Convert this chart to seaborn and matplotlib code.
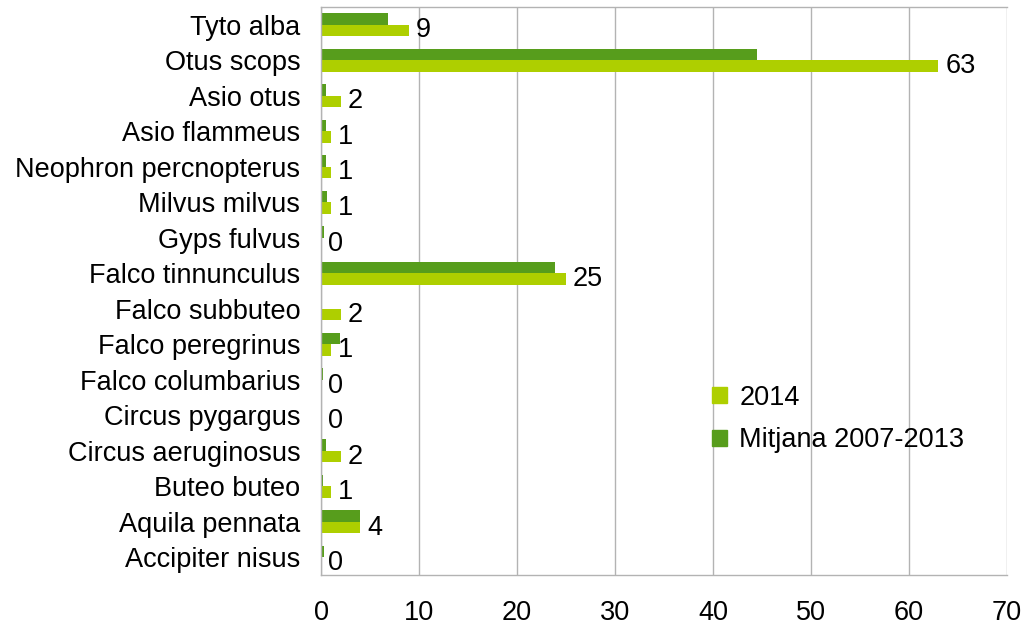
import pandas as pd
import matplotlib
matplotlib.use("Agg")
import matplotlib.pyplot as plt
from matplotlib.patches import Patch
from matplotlib.ticker import FixedLocator
import seaborn as sns

# dades
species = ["Tyto alba", "Otus scops", "Asio otus", "Asio flammeus",
           "Neophron percnopterus", "Milvus milvus", "Gyps fulvus",
           "Falco tinnunculus", "Falco subbuteo", "Falco peregrinus",
           "Falco columbarius", "Circus pygargus", "Circus aeruginosus",
           "Buteo buteo", "Aquila pennata", "Accipiter nisus"]
values_2014 = [9, 63, 2, 1, 1, 1, 0, 25, 2, 1, 0, 0, 2, 1, 4, 0]
values_mitjana = [6.8, 44.5, 0.5, 0.55, 0.5, 0.65, 0.3, 23.9, 0, 1.9,
                  0.15, 0.1, 0.5, 0.2, 4.0, 0.3]

LIGHT = "#aecf00"
DARK = "#579d1c"
FS = 19.5

df = pd.DataFrame({
    "species": species * 2,
    "value": values_mitjana + values_2014,
    "serie": ["Mitjana 2007-2013"] * len(species) + ["2014"] * len(species),
})

sns.set_style("white")
plt.rcParams["font.family"] = ["Liberation Sans", "DejaVu Sans"]
plt.rcParams["text.color"] = "black"

fig = plt.figure(figsize=(10.29, 6.28), dpi=100)
ax = fig.add_axes([0.312, 0.0844, 0.6665, 0.9045])

sns.barplot(data=df, y="species", x="value", hue="serie",
            hue_order=["Mitjana 2007-2013", "2014"],
            palette={"Mitjana 2007-2013": DARK, "2014": LIGHT},
            orient="h", width=0.65, gap=0, saturation=1,
            edgecolor="none", linewidth=0, legend=False, ax=ax)

# etiquetes de 2014
ax.bar_label(ax.containers[1], labels=[str(v) for v in values_2014],
             padding=5, fontsize=FS, color="black")

ax.set_xlim(0, 70)
ax.set_ylim(len(species) - 0.5, -0.5)
ax.set_xticks(range(0, 71, 10))
ax.set_xlabel("")
ax.set_ylabel("")
ax.grid(axis="x", color="#b3b3b3", linewidth=1)
ax.set_axisbelow(True)

ax.yaxis.set_minor_locator(FixedLocator([i - 0.5 for i in range(len(species) + 1)]))
ax.tick_params(axis="y", which="major", length=0, labelsize=FS, pad=15,
               labelcolor="black")
ax.tick_params(axis="y", which="minor", length=7, color="#b3b3b3", direction="out")
ax.tick_params(axis="x", which="major", length=9, color="#b3b3b3",
               direction="out", labelsize=FS, pad=9, labelcolor="black")

for side in ["left", "bottom", "top", "right"]:
    ax.spines[side].set_color("#b3b3b3")
    ax.spines[side].set_linewidth(1)
ax.spines["right"].set_visible(False)

handles = [Patch(color=LIGHT, label="2014"),
           Patch(color=DARK, label="Mitjana 2007-2013")]
leg = ax.legend(handles=handles, loc="upper left", bbox_to_anchor=(0.535, 0.378),
                frameon=False, fontsize=FS, handlelength=0.55, handleheight=0.55,
                handletextpad=0.45, labelspacing=0.62)
for t in leg.get_texts():
    t.set_color("black")

fig.savefig("out.png", dpi=100, facecolor="white")
